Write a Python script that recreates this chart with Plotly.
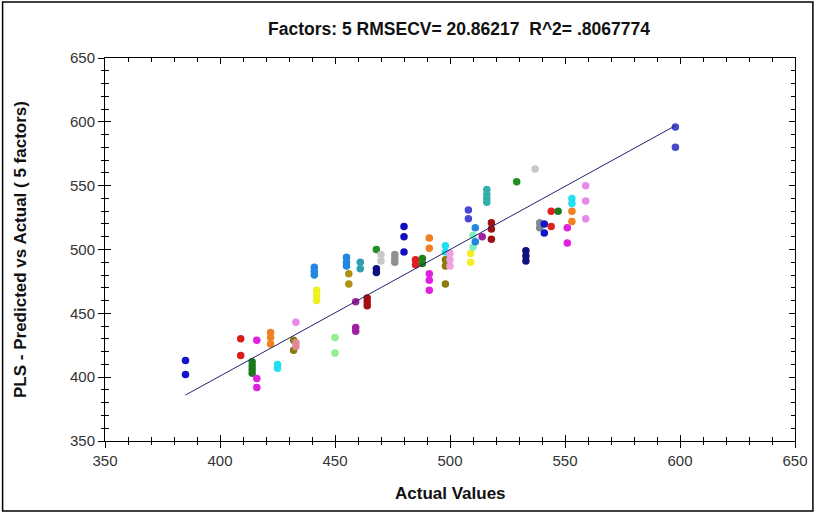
import plotly.graph_objects as go

# ---- data ----
actual = [385, 409, 414, 416, 422, 425, 432, 433, 433, 441, 442, 450, 455, 456,
          459, 461, 464, 468, 468, 470, 476, 480, 485, 488, 491, 491, 498, 498,
          500, 508, 509, 510, 511, 514, 516, 518, 529, 533, 537, 539, 541, 544,
          547, 551, 553, 553, 559, 598]

predicted = [
    [413, 402], [430, 417], [412, 409, 406, 403], [429, 399, 392], [435, 431, 426],
    [410, 407], [429, 421], [427, 424], [443], [486, 483, 480], [468, 464, 460],
    [431, 419], [494, 490, 487], [481, 473], [459, 439, 436], [490, 485],
    [462, 459, 456], [500], [485, 482], [496, 491], [496, 493, 490], [518, 510, 498],
    [492, 488], [493, 489], [509, 501], [481, 476, 468], [503, 498], [492, 487, 473],
    [497, 492, 487], [531, 524], [497, 490], [511, 502], [517, 506], [510],
    [547, 543, 540, 537], [521, 516, 508], [553], [499, 495, 491], [563], [521, 517],
    [520, 513], [530, 518], [530], [517, 505], [540, 536], [530, 522],
    [550, 538, 524], [596, 580]
]

colors = ["#1414c8", "#d81c1c", "#1a7a1a", "#e020e0", "#f08020", "#20e0f0", "#8a7a10",
          "#e08898", "#e888e8", "#2088e0", "#f0f020", "#90f090", "#2088e0", "#b09010",
          "#a020a0", "#30a0b0", "#a01010", "#209020", "#101080", "#c8c8c8", "#909090",
          "#1010c0", "#e02020", "#208020", "#f08020", "#e020e0", "#20e0f0", "#8a7a10",
          "#f0a0e0", "#4848d8", "#f0f020", "#80f0c0", "#2088e0", "#a020a0", "#30b0a8",
          "#a01010", "#209020", "#101080", "#c8c8c8", "#808890", "#1414c8", "#e02020",
          "#1a7a1a", "#e020e0", "#20e0f0", "#f08020", "#e888e8", "#4848c8"]

line_x = [385, 598]
line_y = [386, 597]

title_text = "Factors: 5 RMSECV= 20.86217  R^2= .8067774"
x_title = "Actual Values"
y_title = "PLS - Predicted vs Actual ( 5 factors)"
axis_range = [350, 650]

# ---- figure ----
W, H = 820, 514
L, R, T, B = 105, 21, 58, 73
pw, ph = W - L - R, H - T - B

fig = go.Figure()
for a, preds, c in zip(actual, predicted, colors):
    fig.add_trace(go.Scatter(x=[a] * len(preds), y=preds, mode="markers",
                             marker=dict(color=c, size=7.5, line=dict(width=0)),
                             showlegend=False, hoverinfo="skip"))
fig.add_trace(go.Scatter(x=line_x, y=line_y, mode="lines",
                         line=dict(color="#22226e", width=1),
                         xaxis="x2", yaxis="y2", showlegend=False, hoverinfo="skip"))

font_fam = "Liberation Sans, Arial, sans-serif"
tickfont = dict(family=font_fam, size=15, color="#333333")


def base_axis(**kw):
    d = dict(range=axis_range, tick0=350, dtick=50, showgrid=False, zeroline=False,
             showline=True, linecolor="black", linewidth=1,
             tickcolor="black", tickwidth=1, tickfont=tickfont)
    d.update(kw)
    return d


layout_x = base_axis(ticks="outside", ticklen=6,
                     minor=dict(dtick=10, ticks="outside", ticklen=3,
                                tickcolor="black", showgrid=False))
layout_x2 = base_axis(ticks="inside", ticklen=6, mirror="ticks", showticklabels=False,
                      overlaying="x", anchor="y2",
                      minor=dict(dtick=10, ticks="inside", ticklen=4,
                                 tickcolor="black", showgrid=False))
layout_y = base_axis(ticks="outside", ticklen=6,
                     minor=dict(dtick=10, ticks="outside", ticklen=3,
                                tickcolor="black", showgrid=False))
layout_y2 = base_axis(ticks="inside", ticklen=6, mirror="ticks", showticklabels=False,
                      overlaying="y", anchor="x2",
                      minor=dict(dtick=10, ticks="inside", ticklen=4,
                                 tickcolor="black", showgrid=False))

bx0, by0, bx1, by1 = 2, 2, 817, 511  # outer frame in pixels

fig.update_layout(
    width=W, height=H,
    margin=dict(l=L, r=R, t=T, b=B),
    paper_bgcolor="white", plot_bgcolor="white",
    xaxis=layout_x, xaxis2=layout_x2, yaxis=layout_y, yaxis2=layout_y2,
    title=dict(text="<b>" + title_text + "</b>", x=459 / W, xanchor="center",
               y=1 - 29 / H, yanchor="middle",
               font=dict(family=font_fam, size=17.5, color="#111111")),
    annotations=[
        dict(text="<b>" + x_title + "</b>", xref="paper", yref="paper",
             x=0.5, y=(H - B - 493) / ph, xanchor="center", yanchor="middle",
             showarrow=False, font=dict(family=font_fam, size=17, color="#111111")),
        dict(text="<b>" + y_title + "</b>", xref="paper", yref="paper",
             x=(20 - L) / pw, y=0.5, xanchor="center", yanchor="middle", textangle=-90,
             showarrow=False, font=dict(family=font_fam, size=17, color="#111111")),
    ],
    shapes=[dict(type="rect", xref="paper", yref="paper",
                 x0=(bx0 - L) / pw, x1=(bx1 - L) / pw,
                 y0=(H - B - by1) / ph, y1=(H - B - by0) / ph,
                 line=dict(color="black", width=1.5), fillcolor="rgba(0,0,0,0)",
                 layer="below")],
)

fig.write_html("out.html")
